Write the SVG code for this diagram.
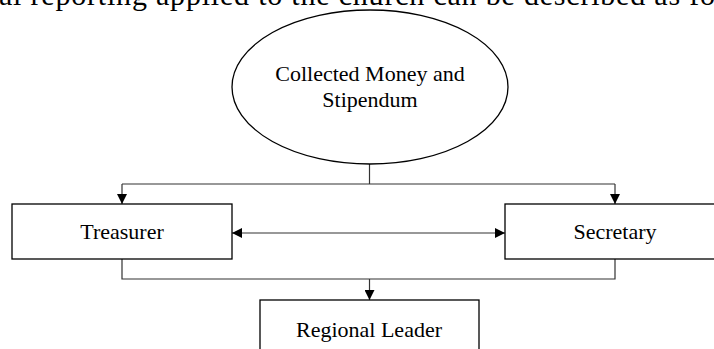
<svg xmlns="http://www.w3.org/2000/svg" width="714" height="349" viewBox="0 0 714 349">
<style>
  .t{font-family:"Liberation Serif","Times New Roman",serif;font-size:22px;fill:#000;text-anchor:middle}
  .n{fill:#fff;stroke:#000;stroke-width:1.3}
  .c{fill:none;stroke:#333;stroke-width:1.2}
</style>
<defs>
  <marker id="ah" viewBox="0 0 10 10" refX="10" refY="5" markerWidth="10" markerHeight="10" markerUnits="userSpaceOnUse" orient="auto-start-reverse">
    <path d="M0,0 L10,5 L0,10 Z" fill="#000"/>
  </marker>
</defs>
<rect width="714" height="349" fill="#fff"/>
<text x="-1" y="5" style="font-family:'Liberation Serif','Times New Roman',serif;font-size:30px" textLength="716" lengthAdjust="spacing">al reporting applied to the church can be described as fo</text>
<g id="connectors">
  <path class="c" d="M369.5,164 V184"/>
  <path class="c" d="M122,184 H615"/>
  <path class="c" d="M122,184 V204" marker-end="url(#ah)"/>
  <path class="c" d="M615,184 V204" marker-end="url(#ah)"/>
  <path class="c" d="M232,233 H505" marker-start="url(#ah)" marker-end="url(#ah)"/>
  <path class="c" d="M122,259 V279 H615 V259"/>
  <path class="c" d="M369.5,279 V300" marker-end="url(#ah)"/>
</g>
<g id="collected">
  <ellipse class="n" cx="370" cy="87" rx="138" ry="77"/>
  <text class="t" x="370" y="81">Collected Money and</text>
  <text class="t" x="370" y="107">Stipendum</text>
</g>
<g id="treasurer">
  <rect class="n" x="12" y="204" width="220" height="55"/>
  <text class="t" x="122" y="239">Treasurer</text>
</g>
<g id="secretary">
  <rect class="n" x="505" y="204" width="215" height="55"/>
  <text class="t" x="615" y="239">Secretary</text>
</g>
<g id="regional">
  <rect class="n" x="260" y="300" width="219" height="60"/>
  <text class="t" x="369" y="337">Regional Leader</text>
</g>
</svg>
